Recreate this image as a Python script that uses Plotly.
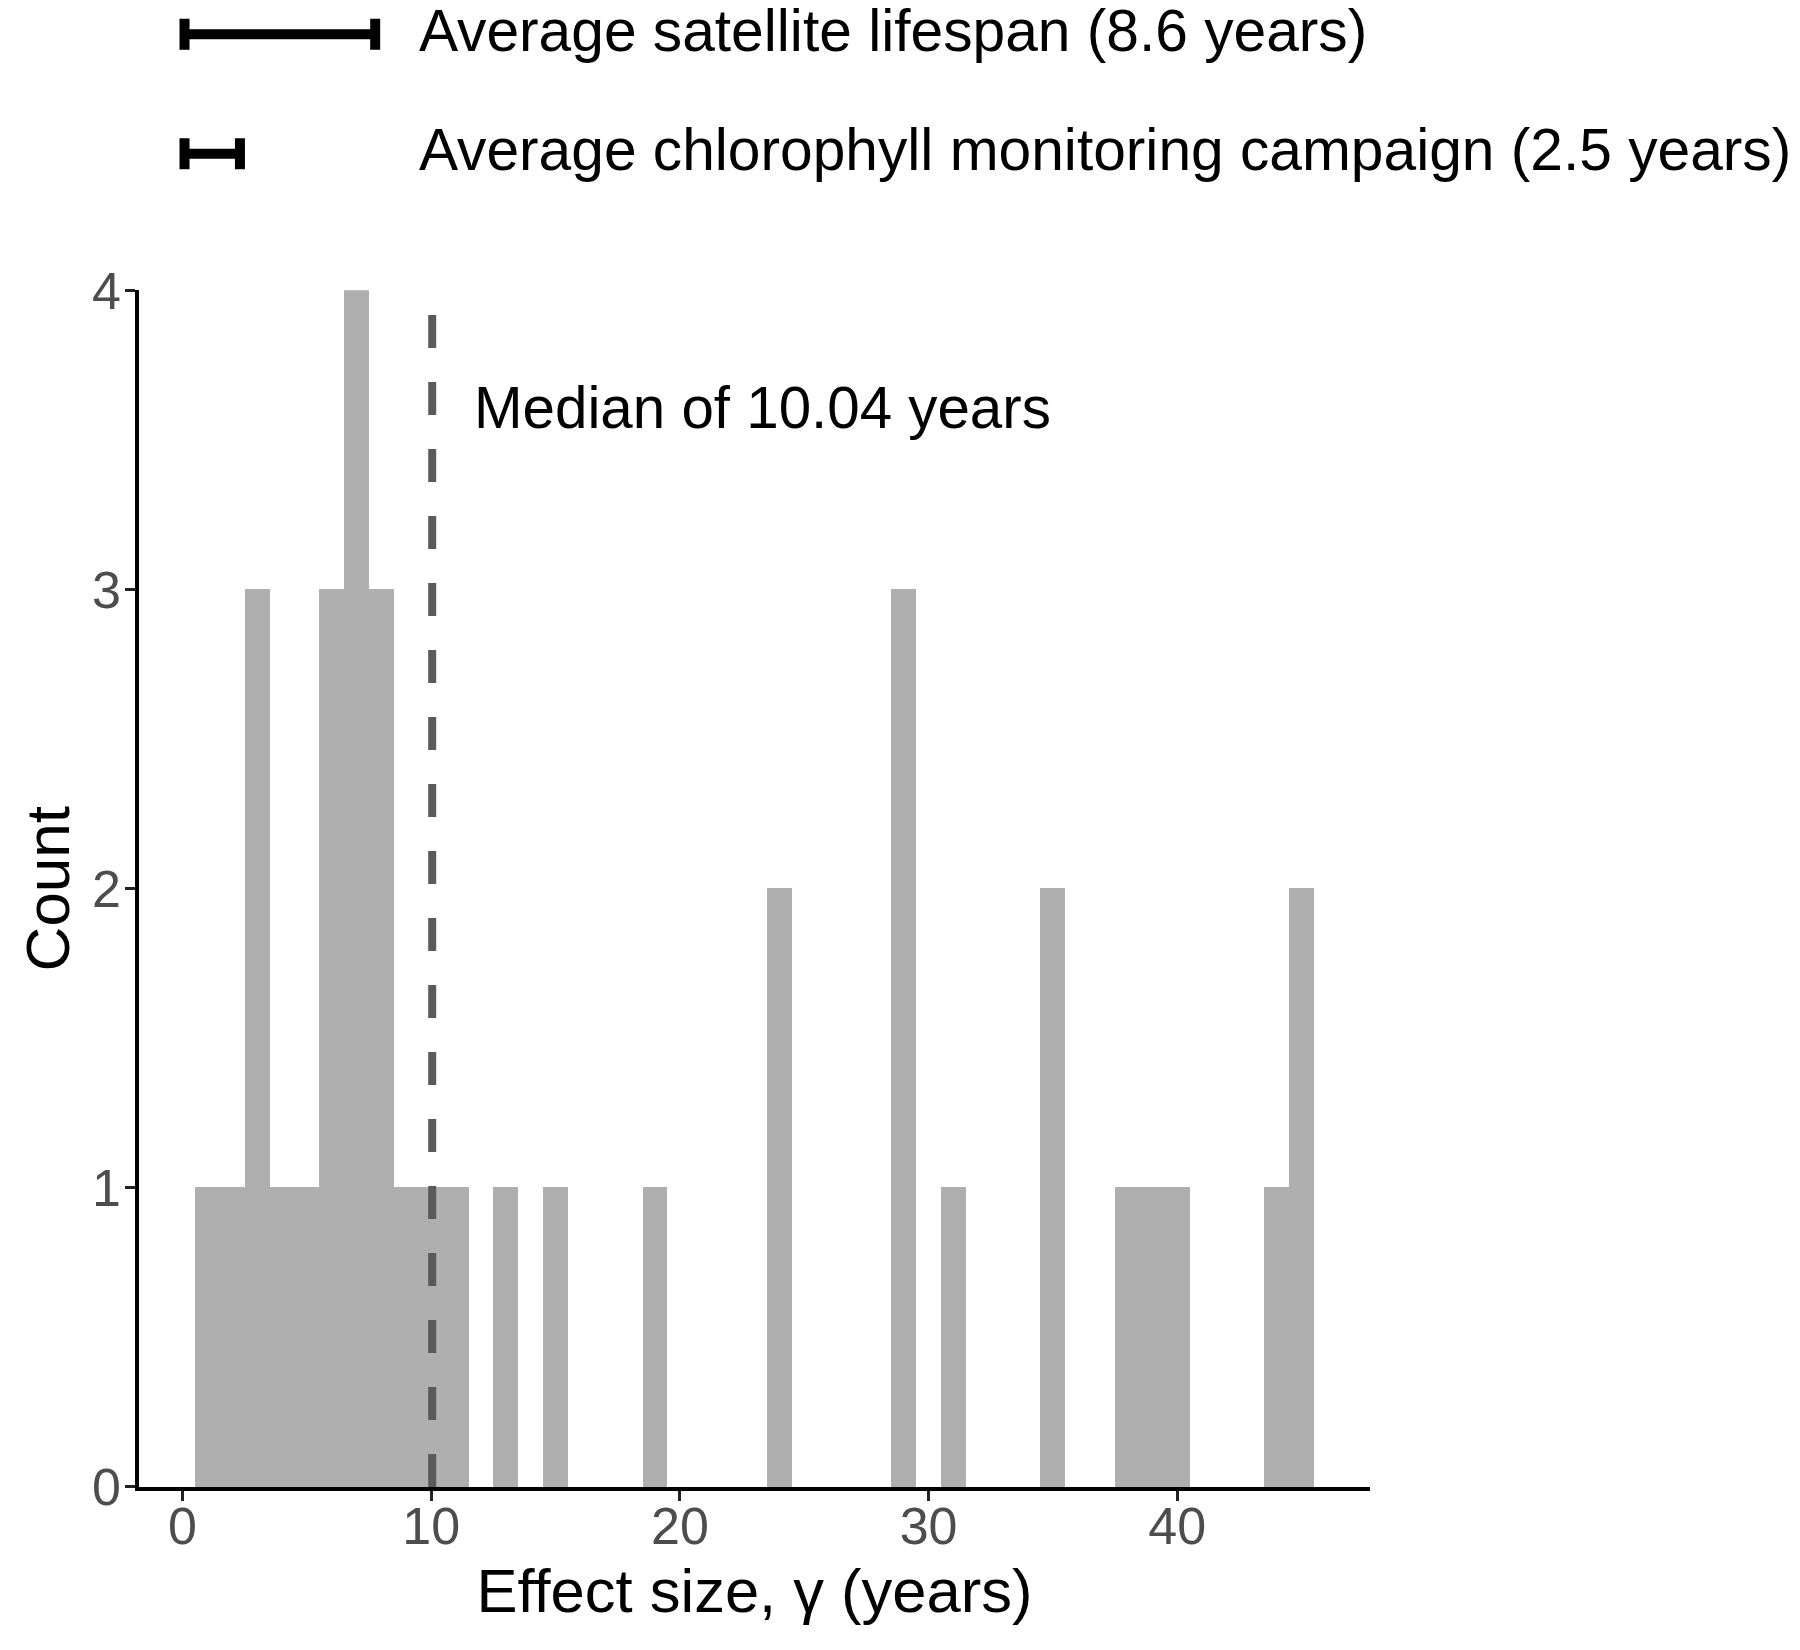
import numpy as np
import plotly.graph_objects as go

# ---------------- data ----------------
# Histogram of effect sizes (binwidth = 1 year): bin centres and counts
bin_centers = [1, 2, 3, 4, 5, 6, 7, 8, 9, 10, 11, 13, 15, 19, 24, 29, 31, 35, 38, 39, 40, 44, 45]
counts      = [1, 1, 3, 1, 1, 3, 4, 3, 1, 1, 1, 1, 1, 1, 2, 3, 1, 2, 1, 1, 1, 1, 2]
bin_width = 1.0

median_years = 10.04

# Reference durations drawn as error-bar "rulers" above the histogram
ref_labels = ["Average satellite lifespan (8.6 years)",
              "Average chlorophyll monitoring campaign (2.5 years)"]
ref_lengths = [8.6, 2.5]
ref_rows = [2, 1]

x_ticks = [0, 10, 20, 30, 40]
y_ticks = [0, 1, 2, 3, 4]

# ---------------- styling ----------------
FONT = "Liberation Sans, Arial, Helvetica, sans-serif"
BAR_COLOR = "#AFAFAF"
TICK_TEXT = "#4D4D4D"

fig = go.Figure()

fig.add_trace(go.Bar(
    x=bin_centers, y=counts, width=bin_width,
    marker=dict(color=BAR_COLOR, line=dict(width=0)),
    xaxis="x", yaxis="y", hoverinfo="x+y",
))

half = np.array(ref_lengths) / 2.0
fig.add_trace(go.Scatter(
    x=half, y=ref_rows, mode="markers",
    marker=dict(size=1, color="rgba(0,0,0,0)"),
    error_x=dict(type="data", array=half, symmetric=True,
                 color="black", thickness=10, width=15.5),
    xaxis="x2", yaxis="y2", hoverinfo="skip",
))

# median dashed line
fig.add_shape(type="line", xref="x", yref="y",
              x0=median_years, x1=median_years, y0=0, y1=4,
              line=dict(color="#5A5A5A", width=8, dash="33px,34px"),
              layer="above")

fig.add_annotation(xref="x", yref="y", x=median_years + 1.6, y=3.61,
                   text=f"Median of {median_years:.2f} years",
                   showarrow=False, xanchor="left", yanchor="middle",
                   font=dict(family=FONT, size=58.3, color="black"))

for lab, row in zip(ref_labels, ref_rows):
    fig.add_annotation(xref="paper", yref="y2", x=0.2255, y=row,
                       text=lab, showarrow=False, xanchor="left",
                       yanchor="middle", yshift=4,
                       font=dict(family=FONT, size=58.7, color="black"))

# the page body adds an 8px offset, so the figure is 8px smaller each way
W, H = 1792, 1642
L, PW = 131, 1231
T, B = 0, 163.3
H_PLOT = H - T - B
TOP_PX = 282.3  # top of main panel, from top of figure

fig.update_layout(
    width=W, height=H,
    margin=dict(l=L, r=W - L - PW, t=T, b=B, pad=0, autoexpand=False),
    paper_bgcolor="white", plot_bgcolor="white",
    showlegend=False, bargap=0,
    font=dict(family=FONT, color="black"),
    xaxis=dict(
        domain=[0, 1], anchor="y", range=[-1.75, 47.75], automargin=False,
        tickmode="array", tickvals=x_ticks,
        showline=True, linecolor="black", linewidth=3.5,
        ticks="outside", ticklen=10, tickwidth=3, tickcolor="#222222",
        showgrid=False, zeroline=False, ticklabelstandoff=-19,
        tickfont=dict(family=FONT, size=52, color=TICK_TEXT),
        title=dict(text="Effect size, γ (years)", standoff=16,
                   font=dict(family=FONT, size=61.5, color="black")),
    ),
    yaxis=dict(
        domain=[0, (H_PLOT - TOP_PX) / H_PLOT], anchor="x", range=[0, 4],
        automargin=False,
        tickmode="array", tickvals=y_ticks,
        showline=True, linecolor="black", linewidth=3.5,
        ticks="outside", ticklen=10, tickwidth=3, tickcolor="#222222",
        showgrid=False, zeroline=False, ticklabelstandoff=-6,
        tickfont=dict(family=FONT, size=52, color=TICK_TEXT),
        title=dict(text="Count", standoff=3,
                   font=dict(family=FONT, size=62, color="black")),
    ),
    xaxis2=dict(domain=[0, 1], anchor="y2", range=[-2.053, 53.47],
                visible=False, fixedrange=True, automargin=False),
    yaxis2=dict(domain=[0.85, 1], anchor="x2", range=[0.3627, 2.2203],
                visible=False, fixedrange=True, automargin=False),
)

fig.write_html("out.html")
